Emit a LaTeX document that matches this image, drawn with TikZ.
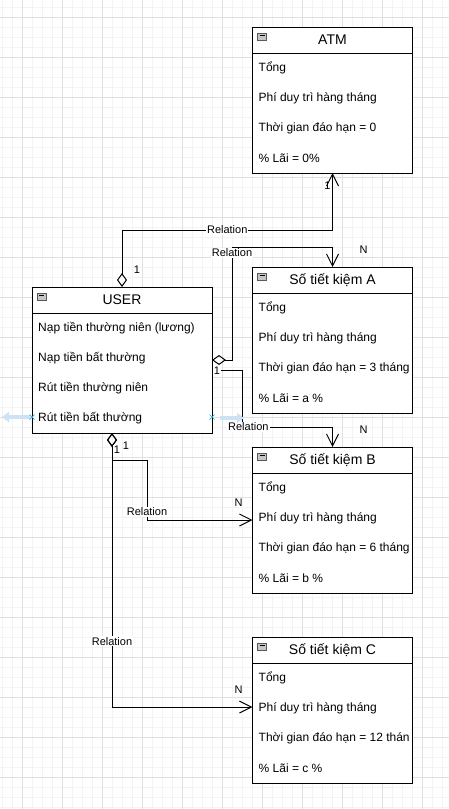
\documentclass[tikz,border=0pt]{standalone}
\usepackage{fontspec}
\setmainfont{Liberation Sans}
\usetikzlibrary{arrows.meta,calc}

\definecolor{gridminor}{RGB}{243,243,243}
\definecolor{gridmajor}{RGB}{224,224,224}
\definecolor{hintblue}{RGB}{205,226,245}
\definecolor{markblue}{RGB}{41,170,235}

\begin{document}
\begin{tikzpicture}[x=1pt, y=-1pt,
    classbox/.style={draw=black, line width=1pt, fill=white, minimum width=160pt, minimum height=146pt, inner sep=0pt, outer sep=0pt},
    titletext/.style={font=\fontsize{14}{16}\selectfont, inner sep=0pt},
    rowtext/.style={font=\fontsize{12}{14}\selectfont, anchor=west, inner sep=0pt},
    icon/.style={fill=gray!45, draw=gray!70!black, line width=0.6pt},
    rel/.style={draw=black, line width=1pt},
    own/.style={{Diamond[open, length=14pt, width=10pt]}-{Straight Barb[length=12pt, width=12pt]}},
    plain/.style={-{Straight Barb[length=12pt, width=12pt]}},
    rellabel/.style={font=\fontsize{11}{13}\selectfont, fill=white, inner sep=1pt},
    mult/.style={font=\fontsize{11}{13}\selectfont, inner sep=1pt},
    hint/.style={hintblue, line width=4pt, -{Triangle[length=7pt, width=10pt]}}
]

    \useasboundingbox (0,0) rectangle (449,809);

    % Draw grid
    \fill[white] (0,0) rectangle (449,809);
    \foreach \x in {2,12,...,442}
        \draw[gridminor, line width=0.8pt] (\x,0) -- (\x,809);
    \foreach \y in {7,17,...,807}
        \draw[gridminor, line width=0.8pt] (0,\y) -- (449,\y);
    \foreach \x in {22,62,...,422}
        \draw[gridmajor, line width=0.8pt] (\x,0) -- (\x,809);
    \foreach \y in {17,57,...,777}
        \draw[gridmajor, line width=0.8pt] (0,\y) -- (449,\y);

    % Accounts
    \foreach \name/\cx/\cy/\title/\rowc/\rowd in {
        atm/332.5/100/ATM/0/0\%,
        sa/332.5/340/Số tiết kiệm A/3 tháng/a \%,
        sb/332.5/520/Số tiết kiệm B/6 tháng/b \%,
        sc/332.5/710/Số tiết kiệm C/12 thán/c \%}
    {
        \node[classbox] (\name) at (\cx,\cy) {};
        \draw[rel] ($(\name.north west)+(0,26)$) -- ($(\name.north east)+(0,26)$);
        \filldraw[icon] ($(\name.north west)+(5,6)$) rectangle ++(9,7);
        \draw[black, line width=0.7pt] ($(\name.north west)+(7,8.5)$) -- ++(5,0);
        \node[titletext] (\name-title) at ($(\name.north)+(0,13)$) {\title};
        \node[rowtext] (\name-r1) at ($(\name.north west)+(6,41)$) {Tổng};
        \node[rowtext] (\name-r2) at ($(\name.north west)+(6,71)$) {Phí duy trì hàng tháng};
        \node[rowtext] (\name-r3) at ($(\name.north west)+(6,101)$) {Thời gian đáo hạn = \rowc};
        \node[rowtext] (\name-r4) at ($(\name.north west)+(6,131)$) {\% Lãi = \rowd};
    }

    % User
    \node[classbox, minimum width=180pt] (user) at (122,360) {};
    \draw[rel] ($(user.north west)+(0,26)$) -- ($(user.north east)+(0,26)$);
    \filldraw[icon] ($(user.north west)+(5,6)$) rectangle ++(9,7);
    \draw[black, line width=0.7pt] ($(user.north west)+(7,8.5)$) -- ++(5,0);
    \node[titletext] (user-title) at ($(user.north)+(0,13)$) {USER};
    \foreach \i/\txt in {1/Nạp tiền thường niên (lương), 2/Nạp tiền bất thường,
                         3/Rút tiền thường niên, 4/Rút tiền bất thường}
        \node[rowtext] (user-r\i) at ($(user.north west)+(6,11+30*\i)$) {\txt};

    % Relations
    \draw[rel, own] (user.north) -- ++(0,-57) -| node[rellabel, pos=0.25] {Relation} (atm.south);
    \node[mult] (m-user-atm) at ($(user.north)+(15,-17)$) {1};
    \node[mult] (m-atm) at ($(atm.south)+(-5,13)$) {1};

    \draw[rel, own] (user.east) -- ++(20,0) -- node[rellabel, pos=0.95] {Relation} ++(0,-113) -| (sa.north);
    \node[mult] (m-sa) at ($(sa.north)+(31,-17)$) {N};

    \coordinate (ub) at ($(user.east)+(0,10)$);
    \draw[rel, plain] (ub) -- ++(30,0) -- ++(0,57) -| node[rellabel, pos=0.035] {Relation} (sb.north);
    \node[mult] (m-sb-top) at ($(sb.north)+(31,-17)$) {N};
    \node[mult, fill=white] (m-user-sa) at ($(user.east)+(5,11)$) {1};

    \coordinate (ud) at ($(user.south)+(-10,0)$);
    \draw[rel, own] (ud) -- ++(0,27) -- ++(35,0) |- node[rellabel, pos=0.43] {Relation} (sb.west);
    \node[mult] (m-sb-left) at ($(sb.west)+(-14,-17)$) {N};

    \draw[rel, own] (ud) |- node[rellabel, pos=0.38] {Relation} ($(sc.west)+(0,-3)$);
    \node[mult] (m-sc) at ($(sc.west)+(-14,-20)$) {N};
    \node[mult, fill=white] (m-user-sb) at ($(ud)+(5,17)$) {1};
    \node[mult] (m-user-sc) at ($(ud)+(14,13)$) {1};

    % Hover hints
    \draw[hint] ($(user.west)+(-2,57)$) -- ++(-28,0);
    \draw[hint] ($(user.east)+(8,58)$) -- ++(24,0);
    \foreach \p in {user.west, user.east}
        \draw[markblue, line width=0.7pt] ($(\p)+(-2.5,54.5)$) -- ++(5,5) ($(\p)+(-2.5,59.5)$) -- ++(5,-5);

\end{tikzpicture}
\end{document}
